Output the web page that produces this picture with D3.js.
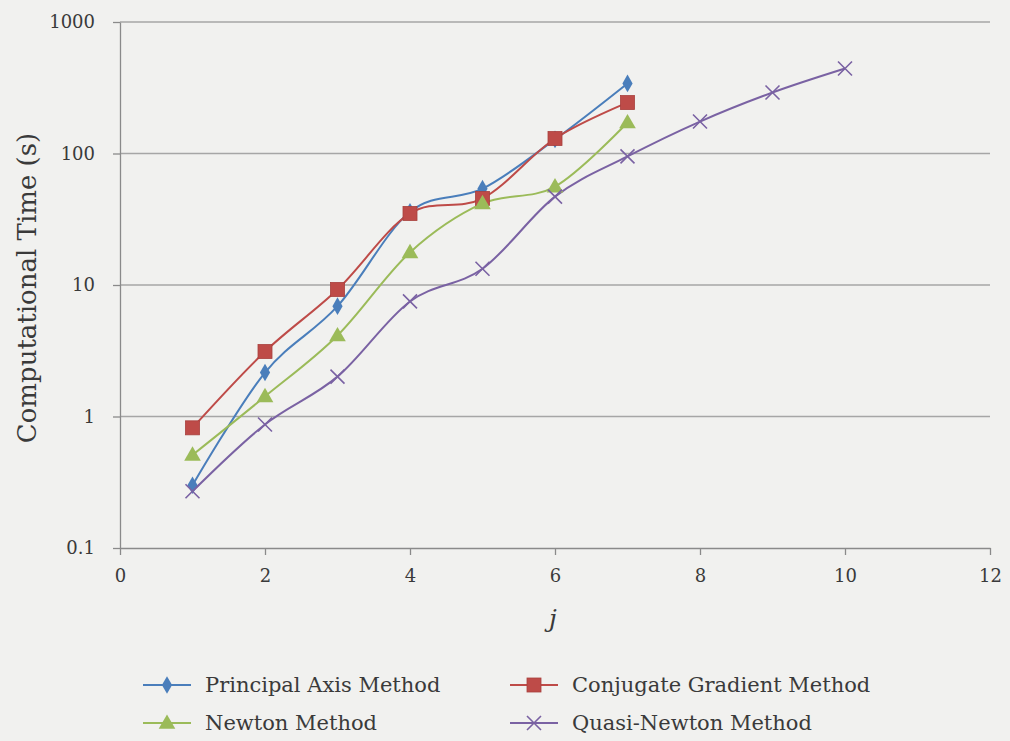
<!DOCTYPE html>
<html><head><meta charset="utf-8">
<script src="https://cdn.jsdelivr.net/npm/d3@7"></script>
<style>
html,body{margin:0;padding:0;background:#f1f1ef;}
svg{display:block;}
</style></head>
<body>
<script>
const jPrincipal = [1,2,3,4,5,6,7];
const principal = [0.30,2.16,6.9,36,54,128,341];
const jConjugate = [1,2,3,4,5,6,7];
const conjugate = [0.82,3.12,9.25,35,45.5,130,244];
const jNewton = [1,2,3,4,5,6,7];
const newton = [0.51,1.42,4.13,17.7,41.7,56,172];
const jQuasi = [1,2,3,4,5,6,7,8,9,10];
const quasi = [0.27,0.87,2.01,7.5,13.3,47,95,175,291,443];
const xTicks = [0,2,4,6,8,10,12];
const yTicks = [0.1,1,10,100,1000];
const seriesNames = ["Principal Axis Method","Conjugate Gradient Method","Newton Method","Quasi-Newton Method"];
const seriesColors = ["#4a7ebb","#be4b48","#9bbb59","#7a62a3"];

const FONT = "DejaVu Serif";
const W=1010,H=741;
const svg=d3.select("body").append("svg").attr("width",W).attr("height",H)
  .style("font-family",FONT);
svg.append("rect").attr("width",W).attr("height",H).attr("fill","#f1f1ef");

const x=d3.scaleLinear().domain([0,12]).range([120,990]);
const y=d3.scaleLog().domain([0.1,1000]).range([548,22]);

// gridlines
svg.append("g").selectAll("line").data(yTicks.slice(1)).join("line")
  .attr("x1",x(0)).attr("x2",x(12)).attr("y1",d=>y(d)).attr("y2",d=>y(d))
  .attr("stroke","#a6a6a6").attr("stroke-width",1.3);

// axes
const xAxis=svg.append("g").attr("transform",`translate(0,${y(0.1)})`)
  .call(d3.axisBottom(x).tickValues(xTicks).tickSize(7).tickSizeOuter(0).tickPadding(14));
const yAxis=svg.append("g").attr("transform",`translate(${x(0)},0)`)
  .call(d3.axisLeft(y).tickValues(yTicks).tickFormat(d=>String(d)).tickSize(7).tickSizeOuter(0).tickPadding(18));
[xAxis,yAxis].forEach(g=>{
  g.attr("font-family",FONT);
  g.select(".domain").attr("stroke","#8a8a8a").attr("stroke-width",1.3);
  g.selectAll(".tick line").attr("stroke","#8a8a8a").attr("stroke-width",1.3);
  g.selectAll(".tick text").attr("font-size",18).attr("fill","#3a3a3a");
});

// axis titles
svg.append("text").attr("transform",`translate(36,288) rotate(-90)`)
  .attr("text-anchor","middle").attr("font-size",26).attr("fill","#3a3a3a").text("Computational Time (s)");
svg.append("text").attr("x",553).attr("y",627).attr("text-anchor","middle")
  .attr("font-size",25).attr("font-style","italic").attr("fill","#3a3a3a").text("j");

const line=d3.line().x(d=>x(d[0])).y(d=>y(d[1])).curve(d3.curveCatmullRom.alpha(0));

const data=[
  d3.zip(jPrincipal,principal),
  d3.zip(jConjugate,conjugate),
  d3.zip(jNewton,newton),
  d3.zip(jQuasi,quasi)
];

function marker(g,type,color,cx,cy){
  if(type===0){
    g.append("path").attr("d",d3.symbol(d3.symbolDiamond,90)()).attr("transform",`translate(${cx},${cy})`).attr("fill",color);
  } else if(type===1){
    g.append("rect").attr("x",cx-7).attr("y",cy-7).attr("width",14).attr("height",14).attr("fill",color).attr("stroke","#a8403d").attr("stroke-width",0.8);
  } else if(type===2){
    g.append("path").attr("d",d3.symbol(d3.symbolTriangle,120)()).attr("transform",`translate(${cx},${cy+1})`).attr("fill",color);
  } else {
    g.append("path").attr("d",`M${cx-7},${cy-7}L${cx+7},${cy+7}M${cx-7},${cy+7}L${cx+7},${cy-7}`).attr("stroke",color).attr("stroke-width",1.6).attr("fill","none");
  }
}

data.forEach((d,i)=>{
  svg.append("path").datum(d).attr("d",line).attr("fill","none")
    .attr("stroke",seriesColors[i]).attr("stroke-width",2);
});
data.forEach((d,i)=>{
  const g=svg.append("g");
  d.forEach(p=>marker(g,i,seriesColors[i],x(p[0]),y(p[1])));
});

// legend
const legPos=[[143,685],[510,685],[143,723],[510,723]];
seriesNames.forEach((n,i)=>{
  const [lx,ly]=legPos[i];
  const g=svg.append("g");
  g.append("line").attr("x1",lx).attr("x2",lx+48).attr("y1",ly).attr("y2",ly).attr("stroke",seriesColors[i]).attr("stroke-width",2);
  marker(g,i,seriesColors[i],lx+24,ly);
  g.append("text").attr("x",lx+62).attr("y",ly+7).attr("font-size",21).attr("fill","#3a3a3a").text(n);
});
</script>
</body></html>
